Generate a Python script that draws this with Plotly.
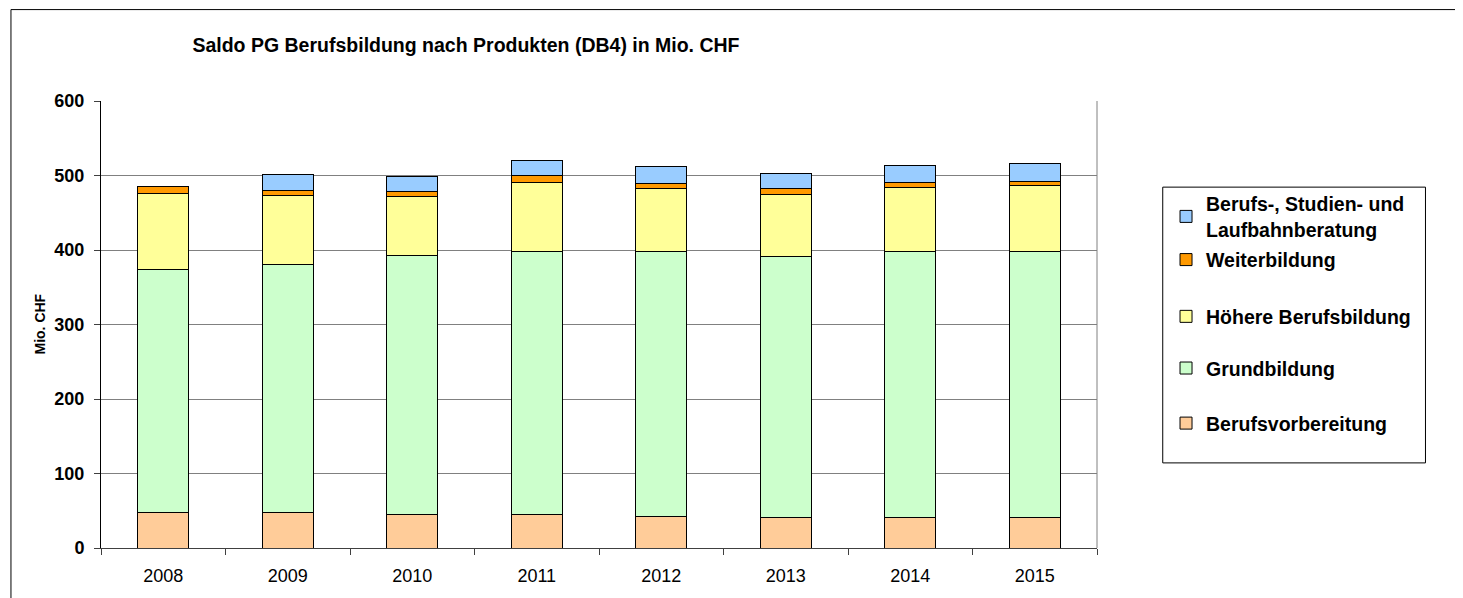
import plotly.graph_objects as go

years = ["2008", "2009", "2010", "2011", "2012", "2013", "2014", "2015"]
berufsvorbereitung = [47.5, 48, 45, 45.5, 42, 41, 41.5, 41.5]
grundbildung = [327, 332.5, 347, 352, 355.5, 350, 357, 357]
hoehere_berufsbildung = [101.5, 92.5, 79.5, 93.5, 85, 84, 85, 87.5]
weiterbildung = [9.5, 7, 6.5, 9, 6.5, 7, 7, 6]
beratung = [None, 21, 21, 20.5, 23.5, 21, 23.5, 23.5]

series = [
    ("Berufsvorbereitung", berufsvorbereitung, "#FFCC99", "legend5", 0.2787),
    ("Grundbildung", grundbildung, "#CCFFCC", "legend4", 0.4019),
    ("Höhere Berufsbildung", hoehere_berufsbildung, "#FFFF99", "legend3", 0.5175),
    ("Weiterbildung", weiterbildung, "#FF9900", "legend2", 0.6445),
    ("Berufs-, Studien- und<br>Laufbahnberatung", beratung, "#99CCFF", "legend", 0.7415),
]

FONT = "Liberation Sans, Arial, sans-serif"

# the page body has an 8px margin; the figure is sized/offset to compensate
W, H = 1455, 590

fig = go.Figure()
layout_legends = {}
for name, vals, color, leg, ly in series:
    fig.add_trace(go.Bar(
        x=years, y=vals, name=name, legend=leg,
        marker=dict(color=color, line=dict(color="black", width=1)),
    ))
    layout_legends[leg] = dict(
        x=1.0693, xanchor="left", y=ly, yanchor="middle",
        bgcolor="rgba(0,0,0,0)", borderwidth=0,
        font=dict(family=FONT, size=19.5, color="black", weight="bold"),
    )

fig.update_layout(
    barmode="stack",
    bargap=0.59,
    width=W, height=H,
    margin=dict(l=93, r=366, t=93, b=50),
    paper_bgcolor="white", plot_bgcolor="white",
    font=dict(family=FONT, color="black"),
    showlegend=True,
    title=dict(
        text="Saldo PG Berufsbildung nach Produkten (DB4) in Mio. CHF",
        x=(466 - 8) / W, xanchor="center", xref="container",
        y=1 - (45 - 8) / H, yanchor="middle", yref="container",
        font=dict(family=FONT, size=19.5, color="black", weight="bold"),
    ),
    xaxis=dict(
        type="category",
        showline=True, linecolor="#404040", linewidth=1,
        ticks="outside", tickson="boundaries", ticklen=6, tickcolor="#404040",
        tickfont=dict(family=FONT, size=18, color="black"),
        ticklabelstandoff=11,
        showgrid=False,
    ),
    yaxis=dict(
        range=[0, 600], dtick=100,
        showline=True, linecolor="black", linewidth=1,
        ticks="outside", ticklen=6, tickcolor="#404040",
        tickfont=dict(family=FONT, size=18, color="black", weight="bold"),
        ticklabelstandoff=6,
        showgrid=True, gridcolor="#808080", gridwidth=1,
        zeroline=False,
    ),
    annotations=[dict(
        text="Mio. CHF", textangle=-90,
        xref="paper", yref="paper", x=(39 - 101) / 996, y=0.5,
        xanchor="center", yanchor="middle", showarrow=False,
        font=dict(family=FONT, size=14, color="black", weight="bold"),
    )],
    shapes=[
        # right border of plot area
        dict(type="line", xref="paper", yref="paper", x0=1, x1=1, y0=0, y1=1,
             line=dict(color="#808080", width=1)),
        # legend box
        dict(type="rect", xref="paper", yref="paper",
             x0=1.0660, x1=1.3298, y0=0.1904, y1=0.8073,
             line=dict(color="black", width=1), fillcolor="rgba(0,0,0,0)"),
        # outer chart border (left and top)
        dict(type="line", xref="paper", yref="paper",
             x0=-0.0904, x1=-0.0904, y0=-0.2, y1=1.2045,
             line=dict(color="black", width=1)),
        dict(type="line", xref="paper", yref="paper",
             x0=-0.0904, x1=1.45, y0=1.2045, y1=1.2045,
             line=dict(color="black", width=1)),
    ],
    **layout_legends,
)

fig.write_html("out.html")
